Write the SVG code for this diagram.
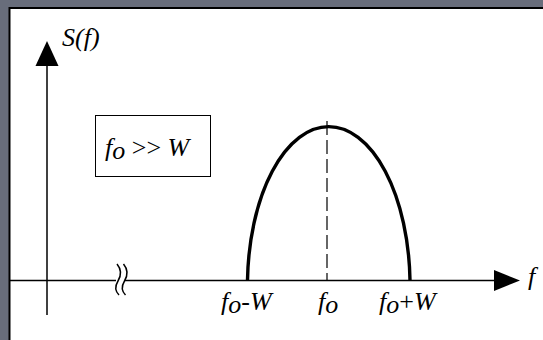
<svg xmlns="http://www.w3.org/2000/svg" width="543" height="340" viewBox="0 0 543 340">
<style>
.t{font-family:"Liberation Serif","Times New Roman",serif;font-style:italic;font-size:26px;fill:#000}
.ax{stroke:#000;stroke-width:1.5;fill:none}
</style>
<rect x="0" y="0" width="543" height="340" fill="#686d7b"/>
<rect x="9.5" y="8" width="540" height="340" fill="#fff" stroke="#000" stroke-width="2"/>
<g id="connectors">
<line class="ax" x1="47" y1="64" x2="47" y2="315"/>
<polygon points="47,41 35.5,66 58.5,66" fill="#000"/>
<line class="ax" x1="10" y1="280.5" x2="116" y2="280.5"/>
<line class="ax" x1="125" y1="280.5" x2="496" y2="280.5"/>
<polygon points="520,280.5 494,270 494,291" fill="#000"/>
<path class="ax" d="M117,264 C122,270 121,276 118,281 C115,286 115,291 119,295"/>
<path class="ax" d="M123.5,264 C128.5,270 127.5,276 124.5,281 C121.5,286 121.5,291 125.5,295"/>
<path d="M247.5,280 A81.3 159 0 0 1 410,280" fill="none" stroke="#000" stroke-width="3.4"/>
<line x1="327" y1="121" x2="327" y2="280" stroke="#000" stroke-width="1.2" stroke-dasharray="14 5"/>
</g>
<g id="ylabel"><text class="t" x="62" y="46" font-size="25">S(f)</text></g>
<g id="xlabel"><text class="t" x="528" y="285">f</text></g>
<g id="cond">
<rect x="95.5" y="115.5" width="115" height="61" fill="#fff" stroke="#000" stroke-width="1"/>
<text class="t" x="105" y="156">f<tspan dy="3">o</tspan><tspan dy="-3" font-style="normal"> &gt;&gt; </tspan>W</text>
</g>
<g id="l1"><text class="t" x="221" y="310">f<tspan dy="3">o</tspan><tspan dy="-3" font-style="normal">-</tspan>W</text></g>
<g id="l2"><text class="t" x="318" y="310">f<tspan dy="3">o</tspan></text></g>
<g id="l3"><text class="t" x="379" y="310">f<tspan dy="3">o</tspan><tspan dy="-3" font-style="normal">+</tspan>W</text></g>
</svg>
